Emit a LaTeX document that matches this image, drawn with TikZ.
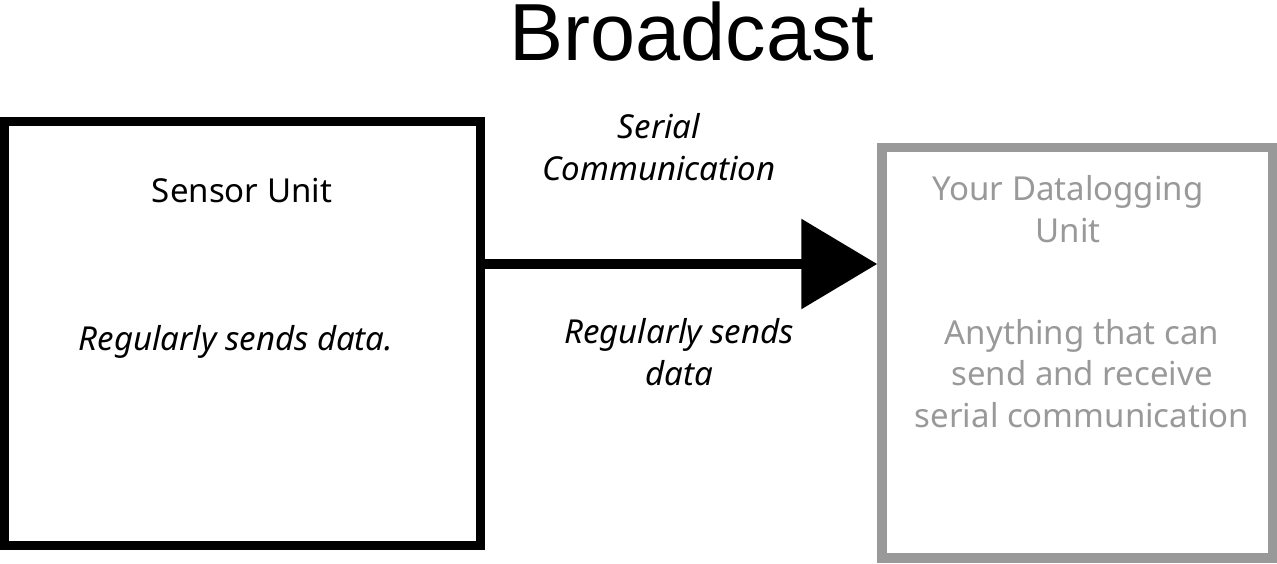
\documentclass[tikz,border=0pt]{standalone}
\usepackage{fontspec}
\setmainfont{Noto Sans}
\newfontfamily\titlefont{Liberation Sans}
\usetikzlibrary{arrows.meta}
\definecolor{lightgraybox}{HTML}{999999}
\begin{document}
\begin{tikzpicture}[x=1pt,y=-1pt,
  unitbox/.style={rectangle, draw, line width=9.5pt, inner sep=0pt, outer sep=4.75pt},
  bodytext/.style={font=\fontsize{33}{41.5}\selectfont, align=center, inner sep=0pt, anchor=base},
  italtext/.style={bodytext, font=\fontsize{33}{41.5}\selectfont\itshape},
  flowarrow/.style={line width=10pt, -{Triangle[length=76pt,width=88pt]}}]
\useasboundingbox (0,0) rectangle (1277,563);
\node[font=\titlefont\fontsize{81}{82}\selectfont, inner sep=0pt, anchor=base] (title) at (692,60) {Broadcast};
\node[unitbox, minimum width=476pt, minimum height=424pt] (sensor) at (242.5,333.5) {};
\node[unitbox, draw=lightgraybox, minimum width=390.5pt, minimum height=410.5pt] (logger) at (1077.25,352.75) {};
\coordinate (arrowy) at (0,264);
\draw[flowarrow] (sensor.east |- arrowy) -- (logger.west |- arrowy);
\node[bodytext] (sensorname) at (242,202.5) {Sensor Unit};
\node[italtext] (sensordesc) at (236,350) {Regularly sends data.};
\node[italtext] (toplabel) at (659,180) {Serial\\Communication};
\node[italtext] (botlabel) at (679,385) {Regularly sends\\data};
\node[bodytext, text=lightgraybox] (loggername) at (1068,242) {Your Datalogging\\Unit};
\node[bodytext, text=lightgraybox] (loggerdesc) at (1082,427) {Anything that can\\send and receive\\serial communication};
\end{tikzpicture}
\end{document}
